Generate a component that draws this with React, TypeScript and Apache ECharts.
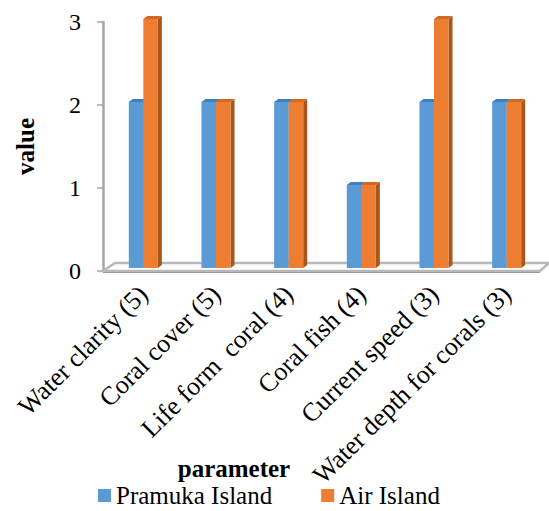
import React, { useEffect, useRef } from "react";
import * as echarts from "echarts";

const categories = [
  "Water clarity (5)",
  "Coral cover (5)",
  "Life form  coral (4)",
  "Coral fish (4)",
  "Current speed (3)",
  "Water depth for corals (3)",
];
const seriesNames = ["Pramuka Island", "Air Island"];
const pramukaValues = [2, 2, 2, 1, 2, 2];
const airValues = [3, 2, 2, 1, 3, 2];
const yTicks = [0, 1, 2, 3];

const FONT = "Liberation Serif";

const palettes = [
  { front: "#5B9BD5", top: "#3f7fbf", side: "#3a6fa3" },
  { front: "#ED7D31", top: "#d5681f", side: "#a9551b" },
];

function makeBarRenderer(idx: number) {
  const pal = palettes[idx];
  return (params: any, api: any) => {
    const cat = api.value(0);
    const val = api.value(1);
    const base = api.coord([cat, 0]);
    const top = api.coord([cat, val]);
    const band = api.size([1, 0])[0];
    const w = band * 0.2;
    const x0 = idx === 0 ? base[0] - w : base[0];
    const x1 = x0 + w;
    const lift = 3;
    const yb = base[1] - lift;
    const yt = top[1] - lift;
    const dx = 4;
    const dy = 3;
    return {
      type: "group",
      children: [
        {
          type: "polygon",
          shape: { points: [[x1, yb], [x1 + dx, yb - dy], [x1 + dx, yt - dy], [x1, yt]] },
          style: { fill: pal.side },
        },
        {
          type: "rect",
          shape: { x: x0, y: yt, width: w, height: yb - yt },
          style: { fill: pal.front },
        },
        {
          type: "polygon",
          shape: { points: [[x0, yt], [x1, yt], [x1 + dx, yt - dy], [x0 + dx, yt - dy]] },
          style: { fill: pal.top },
        },
      ],
    };
  };
}

function renderFloor(params: any, api: any) {
  const cs = params.coordSys;
  const zero = api.coord([0, 0]);
  const yf = zero[1];
  const yk = yf - 8;
  const xl = cs.x;
  const xr = cs.x + cs.width;
  return {
    type: "group",
    children: [
      {
        type: "polygon",
        shape: { points: [[xl - 4, yf], [xr - 3, yf], [xr + 6, yk], [xl + 8, yk]] },
        style: { fill: "#ffffff", stroke: "#b8b8b8", lineWidth: 2.5 },
      },
      {
        type: "line",
        shape: { x1: xl - 4, y1: yf + 1.5, x2: xr - 3, y2: yf + 1.5 },
        style: { stroke: "#9a9a9a", lineWidth: 1 },
      },
    ],
  };
}

export default function App() {
  const ref = useRef<HTMLDivElement>(null);
  useEffect(() => {
    if (!ref.current) return;
    const chart = echarts.init(ref.current, null, { renderer: "svg" });
    const option: any = {
      animation: false,
      backgroundColor: "#ffffff",
      grid: { left: 107, right: 6, top: 22, bottom: 240, containLabel: false },
      xAxis: {
        type: "category",
        data: categories,
        axisLine: { show: false },
        axisTick: { show: false },
        splitLine: { show: false },
        axisLabel: {
          interval: 0,
          rotate: 45,
          margin: 19,
          color: "#000",
          fontFamily: FONT,
          fontSize: 26,
        },
      },
      yAxis: {
        type: "value",
        min: 0,
        max: 3,
        interval: 1,
        offset: 4,
        name: "value",
        nameLocation: "middle",
        nameGap: 65,
        nameRotate: 90,
        nameTextStyle: { color: "#000", fontFamily: FONT, fontSize: 25, fontWeight: "bold" },
        axisLine: { show: true, lineStyle: { color: "#a6a6a6", width: 2.5 } },
        axisTick: { show: true, inside: false, length: 6, lineStyle: { color: "#a6a6a6", width: 1.5 } },
        splitLine: { show: false },
        axisLabel: {
          margin: 22,
          color: "#000",
          fontFamily: FONT,
          fontSize: 24,
          formatter: (v: number) => (yTicks.includes(v) ? String(v) : ""),
        },
      },
      legend: {
        data: seriesNames,
        left: 98,
        top: 483,
        padding: 0,
        icon: "rect",
        itemWidth: 13,
        itemHeight: 13,
        itemGap: 49,
        textStyle: { color: "#000", fontFamily: "Liberation Serif, serif", fontSize: 25, lineHeight: 25 },
      },
      graphic: [
        {
          type: "text",
          x: 234,
          y: 468,
          style: {
            text: "parameter",
            fill: "#000",
            font: `bold 25px ${FONT}`,
            textAlign: "center",
            textVerticalAlign: "middle",
          },
        },
      ],
      series: [
        {
          type: "custom",
          name: "floor",
          renderItem: renderFloor,
          data: [[0, 0]],
          z: 1,
          silent: true,
        },
        {
          type: "custom",
          name: seriesNames[0],
          itemStyle: { color: palettes[0].front },
          renderItem: makeBarRenderer(0),
          data: pramukaValues.map((v, i) => [i, v]),
          z: 2,
        },
        {
          type: "custom",
          name: seriesNames[1],
          itemStyle: { color: palettes[1].front },
          renderItem: makeBarRenderer(1),
          data: airValues.map((v, i) => [i, v]),
          z: 3,
        },
      ],
    };
    chart.setOption(option);
    return () => chart.dispose();
  }, []);
  return (
    <div
      ref={ref}
      style={{ position: "absolute", left: 0, top: 0, width: 549, height: 511 }}
    />
  );
}
